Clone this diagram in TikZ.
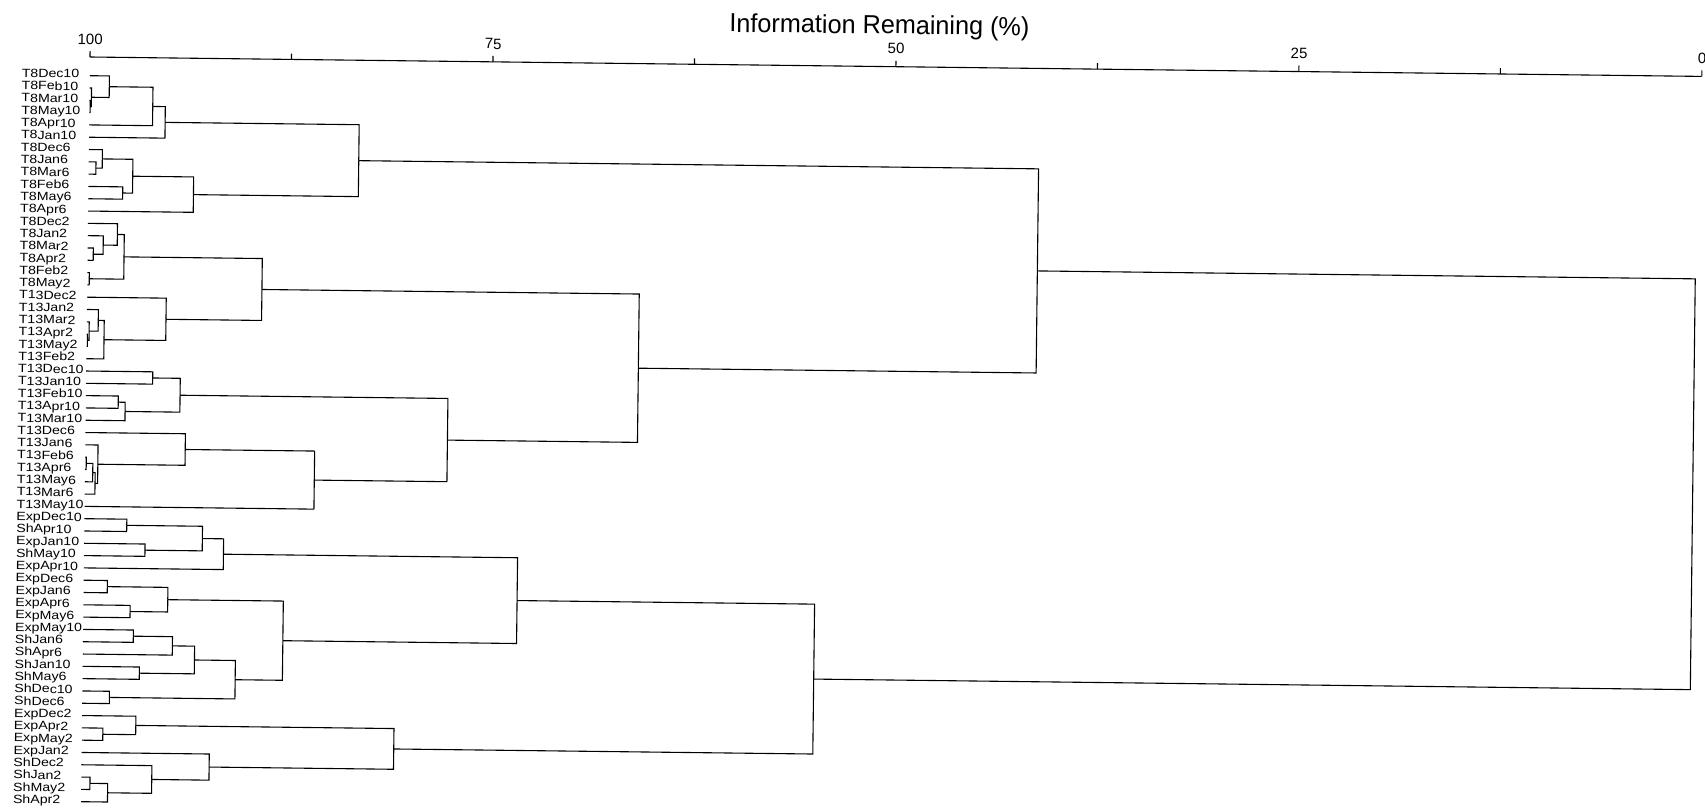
\documentclass[tikz,border=0pt]{standalone}
\usepackage{fontspec}
\setmainfont{Liberation Sans}
\newfontfamily\leaffont[FakeStretch=1.18]{Liberation Sans}
\newfontfamily\titlefont[FakeStretch=0.97]{Liberation Sans}

\begin{document}
\begin{tikzpicture}
  [x=16.12pt,y=-12.307pt,line width=1.1pt,
   every node/.style={inner sep=0pt,transform shape},
   leaf/.style={anchor=base west,font=\leaffont\fontsize{12}{12}\selectfont},
   ticklab/.style={anchor=base,font=\fontsize{15}{15}\selectfont}]
  \useasboundingbox (0pt,0pt) rectangle (1705pt,-809pt);
  \begin{scope}[rotate around={-0.69:(90pt,-57pt)},shift={(90pt,-75.7pt)}]

  % axis
  \node[anchor=base,font=\titlefont\fontsize{26}{26}\selectfont] (title) at (48.95,-4.18) {Information Remaining (\%)};
  \coordinate (ax0) at (0,-1.52);
  \coordinate (ax1) at (100,-1.52);
  \draw (ax0) -- (ax1);
  \foreach \t in {0,12.5,...,100}
    \draw (\t,-1.52) -- (\t,-2.0);
  \foreach \t/\lab in {0/100,25/75,50/50,75/25,100/0}
    \node[ticklab] (t\lab) at (\t,-2.56) {\lab};

  % leaves
  \foreach \name [count=\i from 0] in {T8Dec10,T8Feb10,T8Mar10,T8May10,T8Apr10,T8Jan10,
      T8Dec6,T8Jan6,T8Mar6,T8Feb6,T8May6,T8Apr6,
      T8Dec2,T8Jan2,T8Mar2,T8Apr2,T8Feb2,T8May2,
      T13Dec2,T13Jan2,T13Mar2,T13Apr2,T13May2,T13Feb2,
      T13Dec10,T13Jan10,T13Feb10,T13Apr10,T13Mar10,
      T13Dec6,T13Jan6,T13Feb6,T13Apr6,T13May6,T13Mar6,T13May10,
      ExpDec10,ShApr10,ExpJan10,ShMay10,ExpApr10,
      ExpDec6,ExpJan6,ExpApr6,ExpMay6,ExpMay10,ShJan6,ShApr6,ShJan10,ShMay6,ShDec10,ShDec6,
      ExpDec2,ExpApr2,ExpMay2,ExpJan2,ShDec2,ShJan2,ShMay2,ShApr2} {
    \coordinate (l\i) at (0,\i);
    \node[leaf] (\name) at (-4.25,\i+0.2) {\name};
  }

  % merge points (loss/leaf position)
  \foreach \n/\x/\y in {a/0.05/2.5,b/0.12/1.75,c/1.22/0.875,d/3.93/2.4375,e/4.71/3.71875,
      f/0.45/7.5,g/0.84/6.75,h/2.13/9.5,i/2.74/8.125,j/6.52/9.5625,k/16.75/6.640625,
      m1/0.35/14.5,m2/0.96/13.75,m3/1.83/12.875,m4/0.12/16.5,m5/2.26/14.6875,
      n1/0.05/21.5,n2/0.15/20.75,n3/0.71/19.875,n4/1.08/21.4375,n5/4.91/19.71875,
      p1/10.84/17.203,
      q1/4.13/24.5,q2/2.01/26.5,q3/2.44/27.25,q4/5.84/25.875,
      r1/0.07/31.5,r2/0.48/32.25,r3/0.63/33.125,r4/0.79/31.5625,r5/6.2/30.28,r6/14.23/32.64,
      s1/22.46/29.26,s2/34.25/23.23,s3/58.93/14.936,
      t1/2.63/36.5,t2/3.78/38.5,t3/7.33/37.5,t4/8.65/38.75,
      u1/1.47/41.5,u2/2.9/43.5,u3/5.23/42.5,u4/3.12/45.5,u5/5.55/46.25,u6/3.52/48.5,
      u7/6.93/47.375,u8/1.68/50.5,u9/9.47/48.9375,u10/12.4/45.72,
      v1/26.9/42.23,
      w1/1.3/53.5,w2/3.34/52.75,w3/0.54/57.5,w4/1.64/58.25,w5/4.37/57.125,w6/7.92/56.06,w7/19.36/54.41,
      v2/45.36/48.32,root/99.75/31.63}
    \coordinate (\n) at (\x,\y);

  \foreach \from/\to in {l2/a,l3/a,l1/b,a/b,l0/c,b/c,c/d,l4/d,d/e,l5/e,
      l7/f,l8/f,l6/g,f/g,l9/h,l10/h,g/i,h/i,i/j,l11/j,e/k,j/k,
      l14/m1,l15/m1,l13/m2,m1/m2,l12/m3,m2/m3,l16/m4,l17/m4,m3/m5,m4/m5,
      l21/n1,l22/n1,l20/n2,n1/n2,l19/n3,n2/n3,n3/n4,l23/n4,l18/n5,n4/n5,m5/p1,n5/p1,
      l24/q1,l25/q1,l26/q2,l27/q2,q2/q3,l28/q3,q1/q4,q3/q4,
      l31/r1,l32/r1,r1/r2,l33/r2,r2/r3,l34/r3,l30/r4,r3/r4,l29/r5,r4/r5,r5/r6,l35/r6,
      q4/s1,r6/s1,p1/s2,s1/s2,k/s3,s2/s3,
      l36/t1,l37/t1,l38/t2,l39/t2,t1/t3,t2/t3,t3/t4,l40/t4,
      l41/u1,l42/u1,l43/u2,l44/u2,u1/u3,u2/u3,l45/u4,l46/u4,u4/u5,l47/u5,l48/u6,l49/u6,
      u5/u7,u6/u7,l50/u8,l51/u8,u7/u9,u8/u9,u3/u10,u9/u10,t4/v1,u10/v1,
      l53/w1,l54/w1,l52/w2,w1/w2,l57/w3,l58/w3,w3/w4,l59/w4,l56/w5,w4/w5,l55/w6,w5/w6,
      w2/w7,w6/w7,v1/v2,w7/v2,s3/root,v2/root}
    \draw (\from) -| (\to);

  \end{scope}
\end{tikzpicture}
\end{document}
